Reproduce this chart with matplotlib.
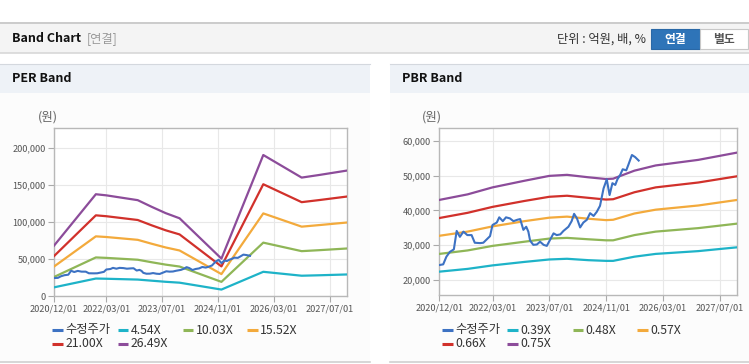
import matplotlib
matplotlib.use("Agg")
import matplotlib.pyplot as plt
from matplotlib.patches import Rectangle
from matplotlib.lines import Line2D

plt.rcParams['font.family'] = ['Noto Sans CJK KR', 'DejaVu Sans']

W, H = 749, 364

# x axis: months since 2020/12/01
tick_months = [0, 15, 31, 47, 63, 79]
tick_labels = ["2020/12/01", "2022/03/01", "2023/07/01", "2024/11/01", "2026/03/01", "2027/07/01"]

# adjusted share price (수정주가)
price_m = [0, 1.1, 2, 3, 4.1, 4.9, 5.8, 6.8, 7.9, 9.1, 10, 11.5, 12.4, 13.4, 14.3, 15, 16.2, 16.9,
           17.9, 18.8, 19.9, 20.9, 22, 22.8, 23.7, 24.5, 25.1, 25.6, 26.5, 27.5, 28.4, 29.4, 30.3,
           31.2, 32.2, 33.1, 34.1, 35, 36.4, 37.3, 38, 38.8, 39.7, 40.6, 41.6, 42.5, 43.5, 44.4,
           45.3, 46.3, 47.2, 48, 48.8, 49.6, 50.2, 51, 51.7, 52.7, 53.3, 54.3, 55.2, 56.2]
price = [24300, 24500, 26700, 28100, 28800, 34100, 32400, 33900, 32900, 32900, 30700, 30600,
         30700, 31700, 32600, 35800, 36500, 38000, 36900, 38000, 37700, 36900, 37300, 37500,
         34400, 35300, 33900, 31300, 30100, 30200, 31000, 30100, 29800, 31500, 33400, 32900,
         33100, 34100, 35300, 36900, 39000, 37700, 35100, 36500, 37300, 39200, 38400, 39600,
         41300, 46300, 48900, 44400, 47800, 47300, 48900, 50200, 51800, 51500, 53100, 55900,
         55300, 54300]

# PER bands
per_m = [0, 12, 15, 24, 28, 32, 36, 48, 60, 71, 76, 84]
per_454 = [11700, 23600, 23300, 22200, 20700, 19200, 18000, 8700, 32700, 27400, 28000, 29100]
per_1003 = [25700, 52100, 51500, 49000, 45600, 42400, 39800, 19100, 72100, 60600, 61900, 64200]
per_1552 = [39800, 80600, 79700, 75900, 70600, 65600, 61500, 29600, 111600, 93700, 95800, 99300]
per_2100 = [53900, 109000, 107800, 102700, 95500, 88800, 83200, 40000, 151000, 126800, 129600, 134400]
per_2649 = [68000, 137500, 136000, 129500, 120500, 112000, 105000, 50500, 190500, 160000, 163500, 169500]

# PBR bands
pbr_m = [0, 8, 15, 24, 31, 36, 42, 47, 49, 55, 61, 73, 84]
pbr_039 = [22400, 23200, 24200, 25200, 25900, 26100, 25700, 25500, 25500, 26700, 27500, 28300, 29400]
pbr_048 = [27500, 28500, 29800, 31000, 31900, 32100, 31700, 31400, 31400, 32900, 33900, 34900, 36200]
pbr_057 = [32700, 33900, 35400, 36900, 37900, 38200, 37600, 37200, 37300, 39100, 40200, 41400, 43000]
pbr_066 = [37800, 39300, 41000, 42700, 43900, 44200, 43600, 43100, 43200, 45200, 46600, 48000, 49800]
pbr_075 = [43000, 44600, 46600, 48500, 49900, 50200, 49500, 49000, 49100, 51400, 52900, 54500, 56600]

colors = ["#3d72c3", "#1eb3c8", "#8fb657", "#f3aa3c", "#d1312b", "#8c4c9a"]
per_names = ["수정주가", "4.54X", "10.03X", "15.52X", "21.00X", "26.49X"]
pbr_names = ["수정주가", "0.39X", "0.48X", "0.57X", "0.66X", "0.75X"]


def fx(px):
    return px / W


def fy(py):
    return 1 - py / H


def box(x, y, w, h, **kw):
    # rectangle given in pixel coords from the top-left corner
    fig.patches.append(Rectangle((fx(x), fy(y + h)), fx(w), fy(y) - fy(y + h),
                                 transform=fig.transFigure, **kw))


fig = plt.figure(figsize=(W / 100, H / 100), dpi=100)
fig.patch.set_facecolor("white")

# top header bar
box(0, 22, W, 31, facecolor="#f4f4f4", edgecolor="none", zorder=-5)
fig.add_artist(Line2D([0, 1], [fy(22.5), fy(22.5)], color="#c4c4c4", lw=1.2))
fig.add_artist(Line2D([0, 1], [fy(53), fy(53)], color="#d8d8d8", lw=1.2))
fig.text(fx(12), fy(39), "Band Chart", fontsize=9, fontweight="bold", color="#111", va="center")
fig.text(fx(87), fy(39), "[연결]", fontsize=8.8, color="#999", va="center")
fig.text(fx(646), fy(39), "단위 : 억원, 배, %", fontsize=8.8, color="#333", va="center", ha="right")
box(651, 29, 49, 19.5, facecolor="#2e74b8", edgecolor="#2a68a6", lw=0.8, zorder=-4)
box(700, 29, 48, 19.5, facecolor="white", edgecolor="#c8c8c8", lw=0.8, zorder=-4)
fig.text(fx(675.5), fy(39), "연결", fontsize=8.5, fontweight="bold", color="white", va="center", ha="center")
fig.text(fx(724), fy(39), "별도", fontsize=8.5, fontweight="bold", color="#555", va="center", ha="center")

panels = [
    dict(x0=0, x1=370, title="PER Band", ax=[54, 347, 128, 296], ylim=(0, 227000),
         yticks=[0, 50000, 100000, 150000, 200000], m=per_m,
         bands=[per_454, per_1003, per_1552, per_2100, per_2649], names=per_names,
         unit_x=38, leg_x=[52.5, 117.7, 182.7, 247.3]),
    dict(x0=390, x1=749, title="PBR Band", ax=[439.3, 737.3, 128, 295], ylim=(15700, 63650),
         yticks=[20000, 30000, 40000, 50000, 60000], m=pbr_m,
         bands=[pbr_039, pbr_048, pbr_057, pbr_066, pbr_075], names=pbr_names,
         unit_x=422, leg_x=[442.3, 507.3, 572.7, 637.3]),
]

for p in panels:
    x0, x1 = p["x0"], p["x1"]
    # panel body and header
    box(x0, 93, x1 - x0, 269, facecolor="#fcfcfc", edgecolor="none", zorder=-5)
    box(x0, 64, x1 - x0, 29, facecolor="#eef2f7", edgecolor="none", zorder=-5)
    fig.add_artist(Line2D([fx(x0), fx(x1)], [fy(64.3), fy(64.3)], color="#d4d8de", lw=0.8))
    fig.add_artist(Line2D([fx(x0), fx(x1)], [fy(362), fy(362)], color="#d0d0d0", lw=1.2))
    fig.text(fx(x0 + 12), fy(79), p["title"], fontsize=9, fontweight="bold", color="#111", va="center")
    fig.text(fx(p["unit_x"]), fy(117.5), "(원)", fontsize=9, color="#666", va="center")

    l, r, t, b = p["ax"]
    ax = fig.add_axes([fx(l), fy(b), fx(r - l), fy(t) - fy(b)])
    ax.set_facecolor("white")
    ax.set_xlim(0, 84)
    ax.set_ylim(*p["ylim"])
    ax.set_xticks(tick_months)
    ax.set_xticklabels(tick_labels)
    ax.set_yticks(p["yticks"])
    ax.set_yticklabels([f"{v:,}" for v in p["yticks"]])
    ax.tick_params(axis="both", labelsize=6.6, labelcolor="#555", color="#aaa", length=4, width=0.8, pad=2)
    ax.grid(True, color="#e8e8e8", lw=0.8)
    ax.set_axisbelow(True)
    for s in ax.spines.values():
        s.set_color("#b8b8b8")
        s.set_linewidth(1)

    ax.plot(price_m, price, color=colors[0], lw=1.5, zorder=4)
    for band, c in zip(p["bands"], colors[1:]):
        ax.plot(p["m"], band, color=c, lw=1.6, zorder=3)

    # legend, fixed-width columns
    for i, (name, c) in enumerate(zip(p["names"], colors)):
        row, col = divmod(i, 4)
        lx = p["leg_x"][col]
        ly = 330 + row * 13.5
        fig.add_artist(Line2D([fx(lx), fx(lx + 10.5)], [fy(ly), fy(ly)], color=c, lw=2.2,
                              solid_capstyle="butt"))
        fig.text(fx(lx + 13), fy(ly), name, fontsize=8.8, color="#333", va="center")

fig.savefig("out.png", dpi=100)
